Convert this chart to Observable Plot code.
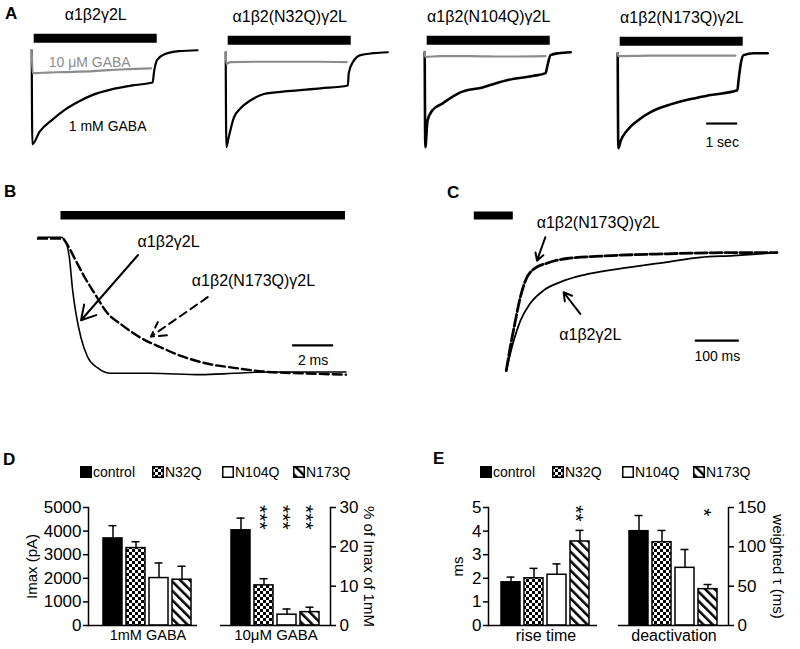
<!DOCTYPE html>
<html><head><meta charset="utf-8">
<script src="https://cdn.jsdelivr.net/npm/d3@7"></script>
<script src="https://cdn.jsdelivr.net/npm/@observablehq/plot@0.6"></script>
<style>
html,body{margin:0;padding:0;background:#fff;}
#fig{position:relative;width:800px;height:649px;overflow:hidden;background:#fff;font-family:"Liberation Sans",Arial,Helvetica,sans-serif;color:#000;}
.abs{position:absolute;}
.plab{position:absolute;font-weight:bold;font-size:17px;line-height:17px;}
.leg{position:absolute;display:flex;align-items:center;height:12px;font-size:14px;line-height:14px;white-space:nowrap;}
.leg svg{display:block;margin-right:1px;}
</style></head><body>
<svg width="0" height="0" style="position:absolute">
<defs>
<pattern id="pat-checker" patternUnits="userSpaceOnUse" width="6" height="6">
<rect width="6" height="6" fill="white"/><rect width="3" height="3" fill="black"/><rect x="3" y="3" width="3" height="3" fill="black"/>
</pattern>
<pattern id="pat-hatch" patternUnits="userSpaceOnUse" width="6.6" height="6.6" patternTransform="rotate(-45)">
<rect width="6.6" height="6.6" fill="white"/><rect width="2.5" height="6.6" fill="black"/>
</pattern>
</defs>
</svg>
<div id="fig"></div>
<script>
// ================= DATA =================
// Panel A: constructs and normalized current traces [time (s), I / Ipeak(1 mM)]
const constructs = ["α1β2γ2L", "α1β2(N32Q)γ2L", "α1β2(N104Q)γ2L", "α1β2(N173Q)γ2L"];
const traceA_wt_1mM = [[0,0],[0.02,-0.99],[0.25,-0.86],[0.67,-0.73],[1.1,-0.62],[1.52,-0.54],[1.97,-0.47],[2.6,-0.41],[3.25,-0.37],[3.9,-0.34],[3.95,-0.22],[4.05,-0.1],[4.3,-0.04],[4.75,-0.01],[5.35,0]];
const traceA_wt_10uM = [[0,0],[0.03,-0.24],[0.15,-0.24],[0.5,-0.235],[1,-0.23],[2,-0.22],[3,-0.2],[3.85,-0.19]];
const traceA_N32Q_1mM = [[0,0],[0.02,-1.0],[0.1,-0.89],[0.26,-0.69],[0.48,-0.59],[0.81,-0.505],[1.23,-0.44],[2.0,-0.41],[3.06,-0.38],[3.94,-0.35],[3.97,-0.22],[4.1,-0.105],[4.35,-0.03],[4.77,-0.01],[5.23,0]];
const traceA_N32Q_10uM = [[0,0],[0.02,-0.12],[0.15,-0.105],[1,-0.1],[2,-0.1],[3,-0.1],[3.9,-0.105]];
const traceA_N104Q_1mM = [[0,0],[0.02,-1.0],[0.09,-0.72],[0.25,-0.61],[0.57,-0.54],[1.1,-0.43],[1.87,-0.37],[2.71,-0.29],[3.48,-0.25],[3.9,-0.22],[3.96,-0.14],[4.06,-0.03],[4.32,-0.01],[4.71,0]];
const traceA_N104Q_10uM = [[0,0],[0.02,-0.05],[0.5,-0.04],[1.5,-0.04],[2.5,-0.045],[3.9,-0.04]];
const traceA_N173Q_1mM = [[0,0],[0.02,-1.0],[0.1,-0.92],[0.31,-0.81],[0.64,-0.71],[1.06,-0.62],[1.6,-0.55],[2.25,-0.49],[3.0,-0.44],[3.86,-0.39],[3.9,-0.28],[3.97,-0.11],[4.06,-0.02],[4.39,0],[4.84,0]];
const traceA_N173Q_10uM = [[0,0],[0.02,-0.03],[1,-0.025],[2,-0.025],[3,-0.025],[3.8,-0.025]];
const stimA = [0.08, 4.05];           // GABA application (s)
const scaleA = [2.87, 3.87];          // 1 sec scale bar
const textA = ["10 μM GABA", "1 mM GABA", "1 sec"];

// Panel B: activation, [time (ms), normalized current]
const traceB_wt = [[0,0],[1.12,0],[1.37,-0.04],[1.53,-0.15],[1.69,-0.39],[1.85,-0.56],[2.1,-0.74],[2.42,-0.88],[2.91,-0.96],[3.56,-1.0],[5.51,-1.0],[7.95,-1.01],[9.56,-1.0],[11.22,-0.99],[15.02,-0.99]];
const traceB_N173Q = [[0,-0.01],[1.2,-0.01],[1.45,-0.06],[1.77,-0.15],[2.26,-0.29],[2.75,-0.41],[3.4,-0.56],[4.05,-0.64],[5.02,-0.74],[6.0,-0.81],[7.12,-0.88],[8.29,-0.93],[9.56,-0.96],[11.22,-0.99],[12.83,-1.0],[15.02,-1.01]];
const stimB = [1.12, 15.0];
const scaleB = [12.42, 14.42];
const labelsB = [{t: 6.37, v: -0.03, text: "α1β2γ2L"}, {t: 10.51, v: -0.32, text: "α1β2(N173Q)γ2L"}];
const arrowsB = [{x1: 4.88, y1: -0.13, x2: 2.1, y2: -0.61, dashed: false}, {x1: 8.28, y1: -0.44, x2: 5.51, y2: -0.73, dashed: true}];

// Panel C: deactivation, [time (ms), normalized current]
const traceC_wt = [[72.7,-1],[89.3,-0.75],[104.5,-0.58],[127.3,-0.43],[157.5,-0.32],[195.5,-0.25],[248.4,-0.19],[324.3,-0.14],[438,-0.08],[513.6,-0.04],[589.3,-0.025],[688,0]];
const traceC_N173Q = [[72.7,-1],[81.8,-0.8],[93.2,-0.58],[104.5,-0.38],[115.9,-0.24],[134.8,-0.14],[165.2,-0.09],[210.7,-0.05],[286.4,-0.03],[438,-0.01],[589.3,0],[688,0]];
const stimC = [0, 88.6];
const scaleC = [502.3, 602.3];
const labelsC = [{t: 281.8, v: 0.254, text: "α1β2(N173Q)γ2L"}, {t: 263.6, v: -0.70, text: "α1β2γ2L"}];
const arrowsC = [{x1: 161.4, y1: 0.13, x2: 142.5, y2: -0.068}, {x1: 240.9, y1: -0.52, x2: 203, y2: -0.336}];

// Panels D and E: bar data (mean, SEM)
const mutants = ["control", "N32Q", "N104Q", "N173Q"];
const imax1mM = [3690, 3280, 2010, 1940];
const imax1mMSem = [540, 270, 640, 570];
const pct10uM = [24.2, 10.2, 2.75, 3.4];
const pct10uMSem = [3.1, 1.7, 1.45, 1.25];
const riseTime = [1.83, 2.0, 2.15, 3.56];
const riseTimeSem = [0.22, 0.42, 0.46, 0.47];
const deactTau = [119.9, 105.9, 73.3, 46.2];
const deactTauSem = [19.9, 14.9, 23.3, 5.9];
const ticksImax = [0, 1000, 2000, 3000, 4000, 5000];
const ticksPct = [0, 10, 20, 30];
const ticksRise = [0, 1, 2, 3, 4, 5];
const ticksTau = [0, 50, 100, 150];
const starsD = [{mutant: "N32Q", y: 27.5, text: "***"}, {mutant: "N104Q", y: 27.5, text: "***"}, {mutant: "N173Q", y: 27.5, text: "***"}];
const starsERise = [{mutant: "N173Q", y: 4.75, text: "**"}];
const starsETau = [{mutant: "N173Q", y: 144, text: "*"}];

// ================= STYLE / LAYOUT =================
const FONT = '"Liberation Sans", Arial, Helvetica, sans-serif';
const mutantFills = ["black", "url(#pat-checker)", "white", "url(#pat-hatch)"];
const baseStyle = {background: "transparent", overflow: "visible", fontFamily: FONT, fontSize: "14px", color: "black", maxWidth: "none"};
const fig = document.getElementById("fig");
function place(el, left, top) {
  const d = document.createElement("div");
  d.className = "abs"; d.style.left = left + "px"; d.style.top = top + "px";
  d.appendChild(el); fig.appendChild(d);
}
const px = (a) => a[0], py = (a) => a[1];

function tracePlot(xDom, yDom, kx, ky, marks) {
  return Plot.plot({
    width: (xDom[1] - xDom[0]) * kx, height: (yDom[1] - yDom[0]) * ky, margin: 0,
    x: {domain: xDom, axis: null}, y: {domain: yDom, axis: null},
    style: baseStyle, marks
  });
}

// ---------- Panel A ----------
const tracesA1mM = [traceA_wt_1mM, traceA_N32Q_1mM, traceA_N104Q_1mM, traceA_N173Q_1mM];
const tracesA10uM = [traceA_wt_10uM, traceA_N32Q_10uM, traceA_N104Q_10uM, traceA_N173Q_10uM];
const layoutA = {x0: [31, 225, 424, 617], base: [50, 52, 52, 53], kx: 31, ky: 95, xDom: [-0.2, 5.6], yDom: [-1.1, 0.45]};
constructs.forEach((name, i) => {
  const marks = [
    Plot.ruleY([stimA], {x1: px, x2: py, y: 0.125, strokeWidth: 9}),
    Plot.text([name], {x: (stimA[0] + stimA[1]) / 2, y: 0.37, fontSize: 16}),
    Plot.line(tracesA1mM[i], {x: px, y: py, stroke: "black", strokeWidth: i >= 2 ? 2.6 : 2.2, curve: "monotone-x"}),
    Plot.line(tracesA10uM[i], {x: px, y: py, stroke: "#8c8c8c", strokeWidth: 2.2, curve: "monotone-x"})
  ];
  if (i === 0) {
    marks.push(Plot.text([textA[0]], {x: 1.87, y: -0.126, fill: "#8c8c8c", fontSize: 14}));
    marks.push(Plot.text([textA[1]], {x: 2.45, y: -0.8, fontSize: 14}));
  }
  if (i === 3) {
    marks.push(Plot.ruleY([scaleA], {x1: px, x2: py, y: -0.74, strokeWidth: 2.2}));
    marks.push(Plot.text([textA[2]], {x: (scaleA[0] + scaleA[1]) / 2, y: -0.937, fontSize: 14}));
  }
  const p = tracePlot(layoutA.xDom, layoutA.yDom, layoutA.kx, layoutA.ky, marks);
  place(p, layoutA.x0[i] + layoutA.xDom[0] * layoutA.kx, layoutA.base[i] - layoutA.yDom[1] * layoutA.ky);
});

// ---------- Panel B ----------
{
  const L = {x0: 37, base: 237, kx: 20.5, ky: 136, xDom: [-1, 16], yDom: [-1.1, 0.3]};
  const p = tracePlot(L.xDom, L.yDom, L.kx, L.ky, [
    Plot.ruleY([stimB], {x1: px, x2: py, y: 0.162, strokeWidth: 8.6}),
    Plot.line(traceB_wt, {x: px, y: py, stroke: "black", strokeWidth: 1.6, curve: "monotone-x"}),
    Plot.line(traceB_N173Q, {x: px, y: py, stroke: "black", strokeWidth: 2.4, strokeDasharray: "9,4", curve: "monotone-x"}),
    Plot.arrow(arrowsB.filter(d => !d.dashed), {x1: "x1", y1: "y1", x2: "x2", y2: "y2", strokeWidth: 2, headLength: 12}),
    Plot.arrow(arrowsB.filter(d => d.dashed), {x1: "x1", y1: "y1", x2: "x2", y2: "y2", strokeWidth: 2, headLength: 12, strokeDasharray: "8,5"}),
    Plot.text(labelsB, {x: "t", y: "v", text: "text", fontSize: 16}),
    Plot.ruleY([scaleB], {x1: px, x2: py, y: -0.794, strokeWidth: 2.2}),
    Plot.text(["2 ms"], {x: (scaleB[0] + scaleB[1]) / 2, y: -0.904, fontSize: 14})
  ]);
  place(p, L.x0 + L.xDom[0] * L.kx, L.base - L.yDom[1] * L.ky);
}

// ---------- Panel C ----------
{
  const L = {x0: 474, base: 252, kx: 0.44, ky: 118, xDom: [-20, 720], yDom: [-1.1, 0.45]};
  const p = tracePlot(L.xDom, L.yDom, L.kx, L.ky, [
    Plot.ruleY([stimC], {x1: px, x2: py, y: 0.314, strokeWidth: 8}),
    Plot.line(traceC_wt, {x: px, y: py, stroke: "black", strokeWidth: 1.8, curve: "monotone-x"}),
    Plot.line(traceC_N173Q, {x: px, y: py, stroke: "black", strokeWidth: 2.8, strokeDasharray: "12,3", curve: "monotone-x"}),
    Plot.arrow(arrowsC, {x1: "x1", y1: "y1", x2: "x2", y2: "y2", strokeWidth: 2, headLength: 11}),
    Plot.text(labelsC, {x: "t", y: "v", text: "text", fontSize: 16}),
    Plot.ruleY([scaleC], {x1: px, x2: py, y: -0.746, strokeWidth: 2.2}),
    Plot.text(["100 ms"], {x: (scaleC[0] + scaleC[1]) / 2, y: -0.88, fontSize: 14})
  ]);
  place(p, L.x0 + L.xDom[0] * L.kx, L.base - L.yDom[1] * L.ky);
}

// ---------- Panels D and E ----------
function barPlot(o) {
  const data = mutants.map((m, i) => ({mutant: m, value: o.vals[i], top: o.vals[i] + o.sems[i]}));
  return Plot.plot({
    width: 200, height: 160, marginTop: 12, marginBottom: 30, marginLeft: o.ml, marginRight: o.mr,
    style: {...baseStyle, fontSize: "17px"},
    x: {domain: mutants, axis: null, insetLeft: o.insetL, insetRight: o.insetR, paddingInner: 0.155, paddingOuter: 0.1},
    y: {domain: o.yDomain},
    color: {domain: mutants, range: mutantFills},
    marks: [
      Plot.barY(data, {x: "mutant", y: "value", fill: "mutant", stroke: "black", strokeWidth: 1.5}),
      Plot.ruleX(data, {x: "mutant", y1: "value", y2: "top", strokeWidth: 1.5}),
      Plot.tickY(data, {x: "mutant", y: "top", insetLeft: 5.5, insetRight: 5.5, strokeWidth: 1.5}),
      Plot.axisY({anchor: o.anchor, ticks: o.ticks, tickFormat: d => String(d), tickSize: 5, tickPadding: o.anchor === "left" ? 2 : 4, label: null, strokeWidth: 1.5, fontSize: 17}),
      Plot.frame({anchor: o.anchor, strokeWidth: 1.5}),
      Plot.ruleY([0], {strokeWidth: 1.5}),
      Plot.text([o.axisLabel], {frameAnchor: o.anchor, dx: o.labelDx, rotate: o.anchor === "left" ? -90 : 90, textAnchor: "middle", lineAnchor: "middle", fontSize: 15}),
      Plot.text([o.groupLabel], {frameAnchor: "bottom", dx: (o.insetL - o.insetR) / 2, dy: 10, textAnchor: "middle", lineAnchor: "middle", fontSize: o.groupSize}),
      Plot.text(o.stars, {x: "mutant", y: "y", text: "text", rotate: 90, dx: -4, textAnchor: "middle", lineAnchor: "middle", fontSize: 21})
    ]
  });
}
place(barPlot({vals: imax1mM, sems: imax1mMSem, ticks: ticksImax, yDomain: [0, 5000], anchor: "left", axisLabel: "Imax (pA)", labelDx: -56, groupLabel: "1mM GABA", groupSize: 14.5, stars: [], ml: 88, mr: 3, insetL: 11.6, insetR: 1.7}), 0, 495);
place(barPlot({vals: pct10uM, sems: pct10uMSem, ticks: ticksPct, yDomain: [0, 30], anchor: "right", axisLabel: "% of Imax of 1mM", labelDx: 38, groupLabel: "10μM GABA", groupSize: 15, stars: starsD, ml: 20, mr: 70, insetL: 7.6, insetR: 6.6}), 200, 495);
place(barPlot({vals: riseTime, sems: riseTimeSem, ticks: ticksRise, yDomain: [0, 5], anchor: "left", axisLabel: "ms", labelDx: -30, groupLabel: "rise time", groupSize: 16, stars: starsERise, ml: 88, mr: 3, insetL: 9.6, insetR: 3.6}), 400, 495);
place(barPlot({vals: deactTau, sems: deactTauSem, ticks: ticksTau, yDomain: [0, 150], anchor: "right", axisLabel: "weighted τ (ms)", labelDx: 49, groupLabel: "deactivation", groupSize: 16, stars: starsETau, ml: 18, mr: 72, insetL: 7.6, insetR: 6.6}), 600, 495);

// ---------- Legends ----------
const legendOffsets = [0, 72, 142, 213];
[80, 480].forEach(x0 => {
  mutants.forEach((m, i) => {
    const d = document.createElement("div");
    d.className = "leg";
    d.style.left = (x0 + legendOffsets[i]) + "px";
    d.style.top = "466px";
    d.innerHTML = `<svg width="12" height="12"><rect x="0.75" y="0.75" width="10.5" height="10.5" fill="${mutantFills[i]}" stroke="black" stroke-width="1.5"/></svg><span>${m}</span>`;
    fig.appendChild(d);
  });
});

// ---------- Panel letters ----------
const panelLetters = ["A", "B", "C", "D", "E"];
const letterPos = [[5, 5], [4, 183], [447, 184], [3, 451], [433, 450]];
panelLetters.forEach((t, i) => {
  const d = document.createElement("div");
  d.className = "plab"; d.textContent = t;
  d.style.left = letterPos[i][0] + "px"; d.style.top = letterPos[i][1] + "px";
  fig.appendChild(d);
});
</script>
</body></html>
